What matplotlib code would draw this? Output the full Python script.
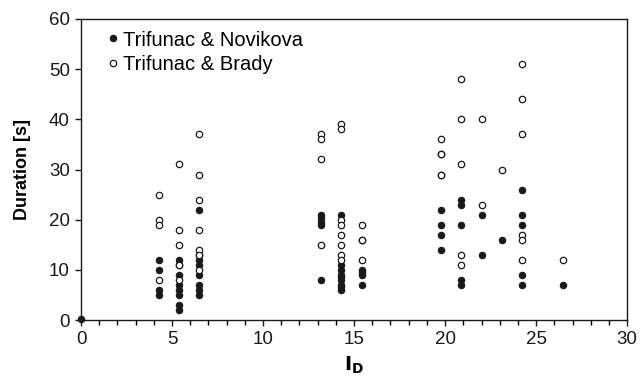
import matplotlib
matplotlib.use("Agg")
import matplotlib.pyplot as plt

plt.rcParams['font.family'] = ['Liberation Sans', 'DejaVu Sans']

# Trifunac & Novikova (filled)
nov_x = ([0.0] + [4.3]*4 + [5.4]*8 + [6.5]*8 + [13.2]*5 + [14.3]*9 + [15.45]*4
         + [19.8]*4 + [20.9]*5 + [22.0]*2 + [23.1] + [24.2]*5 + [26.45])
nov_y = ([0.3]
         + [12, 10, 6, 5]
         + [12, 11, 9, 7, 6, 5, 3, 2]
         + [22, 13, 12, 11, 9, 7, 6, 5]
         + [21, 20.3, 19.6, 19, 8]
         + [21, 11, 10, 9, 8.5, 8, 7, 6.5, 6]
         + [10, 9.5, 9, 7]
         + [22, 19, 17, 14]
         + [24, 23, 19, 8, 7]
         + [21, 13]
         + [16]
         + [26, 21, 19, 9, 7]
         + [7])

# Trifunac & Brady (open)
bra_x = ([4.3]*4 + [5.4]*5 + [6.5]*7 + [13.2]*4 + [14.3]*8 + [15.45]*4
         + [19.8]*5 + [20.9]*5 + [22.0]*2 + [23.1] + [24.2]*6 + [26.45])
bra_y = ([25, 20, 19, 8]
         + [31, 18, 15, 11, 8]
         + [37, 29, 24, 18, 14, 13, 10]
         + [37, 36, 32, 15]
         + [39, 38, 20, 19, 17, 15, 13, 12]
         + [19, 16, 16, 12]
         + [36, 33, 33, 29, 29]
         + [48, 40, 31, 13, 11]
         + [40, 23]
         + [30]
         + [51, 44, 37, 17, 16, 12]
         + [12])

fig = plt.figure(figsize=(6.41, 3.87), dpi=100)
ax = fig.add_axes([0.1264, 0.173, 0.852, 0.778])

ax.plot(nov_x, nov_y, 'o', ms=4.6, mfc='#1a1a1a', mec='#1a1a1a', mew=0.8,
        label='Trifunac & Novikova', clip_on=False, zorder=3)
ax.plot(bra_x, bra_y, 'o', ms=4.6, mfc='white', mec='#1a1a1a', mew=0.9,
        label='Trifunac & Brady', zorder=3)

ax.set_xlim(0, 30)
ax.set_ylim(0, 60)
ax.set_xticks(range(0, 31, 5))
ax.set_yticks(range(0, 61, 10))
ax.set_xticks(range(0, 31), minor=True)
ax.tick_params(axis='both', which='major', direction='out', length=4, width=1,
               labelsize=13.5, colors='#1a1a1a', pad=4)
ax.tick_params(axis='x', which='minor', direction='out', length=3.5, width=1)
for s in ax.spines.values():
    s.set_linewidth(1.0)
    s.set_color('#1a1a1a')

ax.set_xlabel(r'$\mathbf{I_D}$', fontsize=14, labelpad=5)
ax.set_ylabel('Duration [s]', fontsize=13, fontweight='bold', labelpad=13)

leg = ax.legend(loc='upper left', bbox_to_anchor=(0.035, 0.975), frameon=False,
                fontsize=14.5, handletextpad=0.05, handlelength=0.9,
                borderaxespad=0.0, borderpad=0.2, labelspacing=0.28)

fig.savefig('out.png', dpi=100)
